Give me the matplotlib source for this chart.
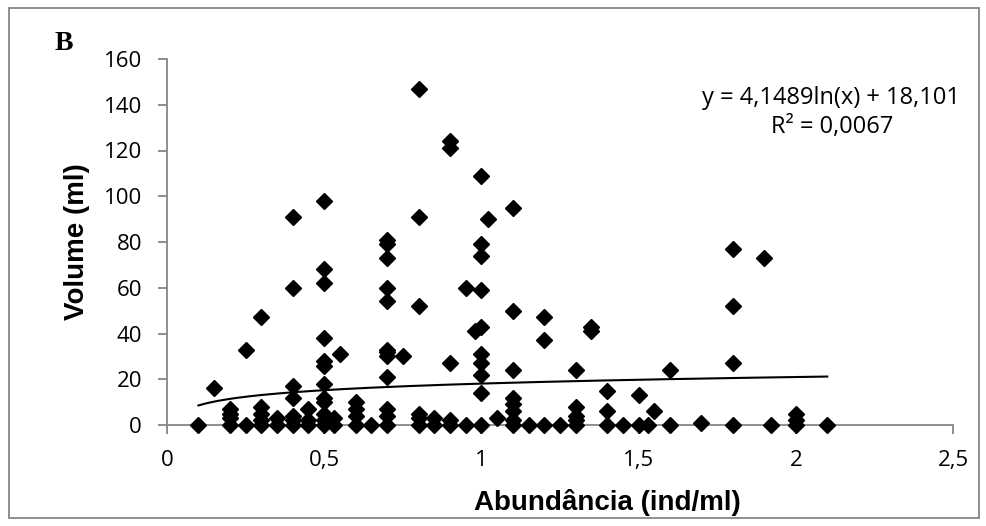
import numpy as np
import matplotlib.pyplot as plt
from matplotlib.patches import Rectangle

# abundancia (ind/ml) and volume (ml)
abund = [0.1, 0.15,
         0.2, 0.2, 0.2, 0.2,
         0.25, 0.25,
         0.3, 0.3, 0.3, 0.3, 0.3,
         0.35, 0.35,
         0.4, 0.4, 0.4, 0.4, 0.4, 0.4, 0.4,
         0.45, 0.45, 0.45,
         0.5, 0.5, 0.5, 0.5, 0.5, 0.5, 0.5, 0.5, 0.5, 0.5, 0.5, 0.5,
         0.53, 0.53, 0.55,
         0.6, 0.6, 0.6, 0.6, 0.65,
         0.7, 0.7, 0.7, 0.7, 0.7, 0.7, 0.7, 0.7, 0.7, 0.7, 0.7, 0.7,
         0.75,
         0.8, 0.8, 0.8, 0.8, 0.8, 0.8,
         0.85, 0.85,
         0.9, 0.9, 0.9, 0.9, 0.9,
         0.95, 0.95,
         1.0, 1.0, 1.0, 1.0, 1.0, 1.0, 1.0, 1.0, 1.0, 1.0, 0.98,
         1.02, 1.05,
         1.1, 1.1, 1.1, 1.1, 1.1, 1.1, 1.1, 1.1,
         1.15, 1.2, 1.2, 1.2, 1.25,
         1.3, 1.3, 1.3, 1.3, 1.3,
         1.35, 1.35,
         1.4, 1.4, 1.4, 1.45, 1.5, 1.5, 1.53, 1.55,
         1.6, 1.6, 1.7,
         1.8, 1.8, 1.8, 1.8, 1.9, 1.92,
         2.0, 2.0, 2.0, 2.1]
volume = [0, 16,
          7, 5, 3, 0,
          33, 0,
          47, 8, 5, 2, 0,
          3, 0,
          91, 60, 17, 12, 4, 0, 2,
          7, 0, 2,
          98, 68, 62, 38, 28, 26, 18, 12, 10, 5, 2, 0,
          0, 3, 31,
          10, 7, 4, 0, 0,
          81, 79, 73, 60, 54, 33, 32, 30, 21, 7, 4, 0,
          30,
          147, 91, 52, 5, 3, 0,
          3, 0,
          124, 121, 27, 2, 0,
          60, 0,
          109, 79, 74, 59, 43, 31, 27, 22, 14, 0, 41,
          90, 3,
          95, 50, 24, 12, 9, 6, 0, 2,
          0, 47, 37, 0, 0,
          24, 8, 4, 0, 2,
          43, 41,
          15, 6, 0, 0, 13, 0, 0, 6,
          24, 0, 1,
          77, 52, 27, 0, 73, 0,
          5, 2, 0, 0]

# log trend line given in the chart
a, b = 4.1489, 18.101
xt = np.linspace(min(abund), max(abund), 200)
yt = a * np.log(xt) + b

grey = '#868686'
fig = plt.figure(figsize=(9.86, 5.26), dpi=100)
ax = fig.add_axes([167/986, 101/526, 786/986, 366/526])

ax.plot(abund, volume, linestyle='none', marker='D', markersize=8.5,
        color='black', clip_on=False, zorder=3)
ax.plot(xt, yt, color='black', linewidth=1.5, zorder=4)

ax.set_xlim(0, 2.5)
ax.set_ylim(0, 160)
ax.set_xticks([0, 0.5, 1, 1.5, 2, 2.5])
ax.set_xticklabels(['0', '0,5', '1', '1,5', '2', '2,5'])
ax.set_yticks(range(0, 161, 20))

for s in ['top', 'right']:
    ax.spines[s].set_visible(False)
for s in ['left', 'bottom']:
    ax.spines[s].set_color(grey)
    ax.spines[s].set_linewidth(1.3)
ax.tick_params(direction='out', length=6.5, width=1.3, color=grey,
               labelsize=16, pad=11.5)
for lab in ax.get_xticklabels() + ax.get_yticklabels():
    lab.set_family('Open Sans')

# axis titles placed like the Excel original
fig.text(607/986, 1 - 510/526, 'Abundância (ind/ml)', ha='center',
         va='baseline', fontsize=20, fontweight='bold',
         family='Liberation Sans')
fig.text(77/986, 1 - 242/526, 'Volume (ml)', ha='center', va='center',
         rotation=90, fontsize=20, fontweight='bold',
         family='Liberation Sans')

fig.text(831/986, 1 - 98/526, 'y = 4,1489ln(x) + 18,101', ha='center',
         va='center', fontsize=17, family='Open Sans')
fig.text(832/986, 1 - 127/526, 'R² = 0,0067', ha='center', va='center',
         fontsize=17, family='Open Sans')
fig.text(64/986, 1 - 43/526, 'B', ha='center', va='center', fontsize=20,
         fontweight='bold', family='Liberation Serif')

fig.patches.append(Rectangle((9/986, 8/526), 970/986, 510/526,
                             transform=fig.transFigure, fill=False,
                             edgecolor=grey, linewidth=1.3))

fig.savefig('out.png', dpi=100)
